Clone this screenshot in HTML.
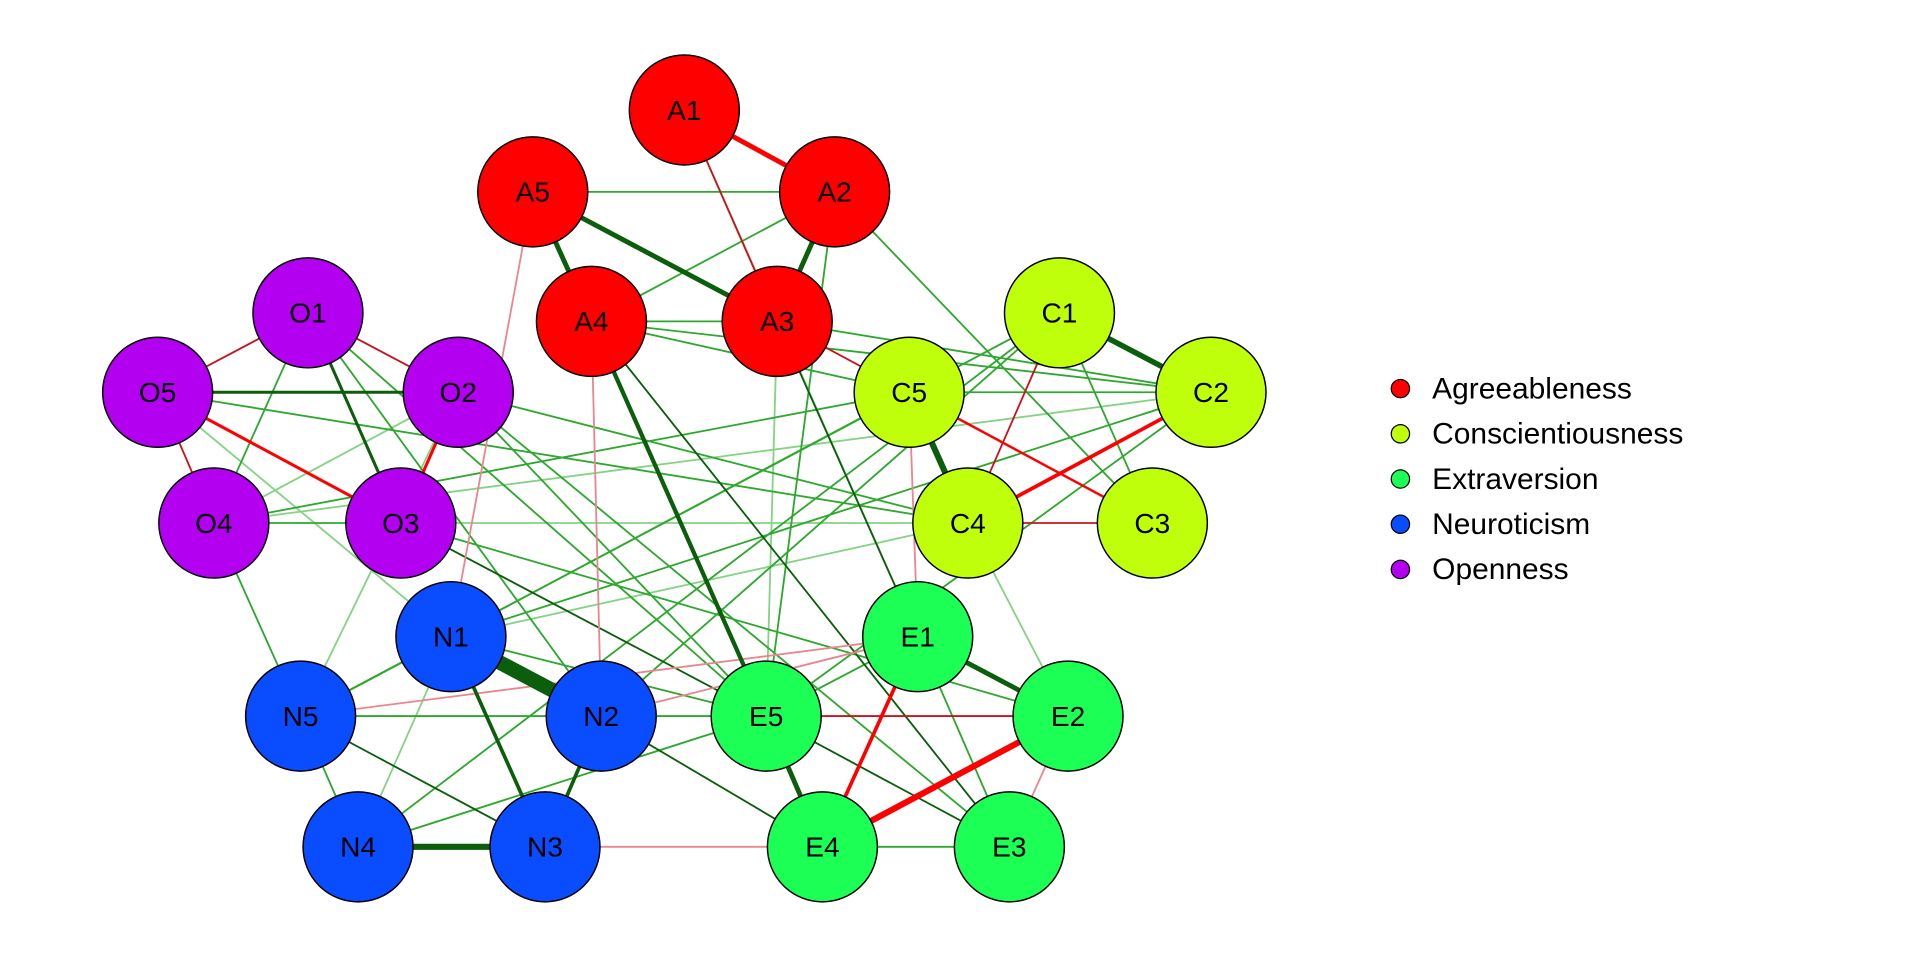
<!DOCTYPE html>
<html><head><meta charset="utf-8"><style>
html,body{margin:0;padding:0;background:#fff;width:1920px;height:960px;overflow:hidden}
svg text{font-family:"Liberation Sans",Arial,sans-serif}
</style></head><body>
<svg width="1920" height="960" viewBox="0 0 1920 960" xmlns="http://www.w3.org/2000/svg">
<g transform="scale(1.222)">
<g fill="none" stroke-linecap="round">
<g stroke="#86d386" stroke-width="1.5">
<line x1="560" y1="90" x2="751" y2="521"/>
<line x1="636" y1="263" x2="627" y2="586"/>
<line x1="375" y1="321" x2="246" y2="586"/>
<line x1="175" y1="428" x2="991" y2="321"/>
<line x1="328" y1="428" x2="792" y2="428"/>
<line x1="369" y1="521" x2="293" y2="693"/>
<line x1="792" y1="428" x2="874" y2="586"/>
<line x1="129" y1="321" x2="369" y2="521"/>
<line x1="175" y1="428" x2="375" y2="321"/>
<line x1="683" y1="157" x2="636" y2="263"/>
<line x1="792" y1="428" x2="369" y2="521"/>
</g>
<g stroke="#2ea82e" stroke-width="1.5">
<line x1="436" y1="157" x2="683" y2="157"/>
<line x1="683" y1="157" x2="484" y2="263"/>
<line x1="683" y1="157" x2="943" y2="428"/>
<line x1="683" y1="157" x2="627" y2="586"/>
<line x1="484" y1="263" x2="636" y2="263"/>
<line x1="484" y1="263" x2="744" y2="321"/>
<line x1="484" y1="263" x2="991" y2="321"/>
<line x1="636" y1="263" x2="991" y2="321"/>
<line x1="867" y1="256" x2="943" y2="428"/>
<line x1="867" y1="256" x2="246" y2="586"/>
<line x1="991" y1="321" x2="744" y2="321"/>
<line x1="991" y1="321" x2="627" y2="586"/>
<line x1="744" y1="321" x2="175" y2="428"/>
<line x1="792" y1="428" x2="375" y2="321"/>
<line x1="792" y1="428" x2="129" y2="321"/>
<line x1="252" y1="256" x2="175" y2="428"/>
<line x1="252" y1="256" x2="627" y2="586"/>
<line x1="252" y1="256" x2="492" y2="586"/>
<line x1="375" y1="321" x2="627" y2="586"/>
<line x1="375" y1="321" x2="826" y2="693"/>
<line x1="175" y1="428" x2="328" y2="428"/>
<line x1="175" y1="428" x2="246" y2="586"/>
<line x1="328" y1="428" x2="874" y2="586"/>
<line x1="369" y1="521" x2="246" y2="586"/>
<line x1="369" y1="521" x2="627" y2="586"/>
<line x1="369" y1="521" x2="991" y2="321"/>
<line x1="246" y1="586" x2="492" y2="586"/>
<line x1="246" y1="586" x2="293" y2="693"/>
<line x1="246" y1="586" x2="744" y2="321"/>
<line x1="492" y1="586" x2="627" y2="586"/>
<line x1="293" y1="693" x2="627" y2="586"/>
<line x1="293" y1="693" x2="867" y2="256"/>
<line x1="627" y1="586" x2="751" y2="521"/>
<line x1="751" y1="521" x2="826" y2="693"/>
<line x1="673" y1="693" x2="826" y2="693"/>
<line x1="867" y1="256" x2="492" y2="586"/>
</g>
<g stroke="#0b5e0b" stroke-width="1.5">
<line x1="484" y1="263" x2="826" y2="693"/>
<line x1="636" y1="263" x2="751" y2="521"/>
<line x1="328" y1="428" x2="627" y2="586"/>
<line x1="246" y1="586" x2="446" y2="693"/>
<line x1="492" y1="586" x2="673" y2="693"/>
<line x1="627" y1="586" x2="826" y2="693"/>
</g>
<g stroke="#e8888e" stroke-width="1.5">
<line x1="436" y1="157" x2="369" y2="521"/>
<line x1="484" y1="263" x2="492" y2="586"/>
<line x1="744" y1="321" x2="751" y2="521"/>
<line x1="246" y1="586" x2="751" y2="521"/>
<line x1="446" y1="693" x2="673" y2="693"/>
<line x1="874" y1="586" x2="826" y2="693"/>
<line x1="492" y1="586" x2="751" y2="521"/>
</g>
<g stroke="#c8141e" stroke-width="1.5">
<line x1="560" y1="90" x2="636" y2="263"/>
<line x1="867" y1="256" x2="792" y2="428"/>
<line x1="792" y1="428" x2="943" y2="428"/>
<line x1="129" y1="321" x2="175" y2="428"/>
<line x1="627" y1="586" x2="874" y2="586"/>
<line x1="129" y1="321" x2="252" y2="256"/>
<line x1="252" y1="256" x2="375" y2="321"/>
<line x1="636" y1="263" x2="943" y2="428"/>
</g>
<line x1="560" y1="90" x2="683" y2="157" stroke="#ff0000" stroke-width="4"/>
<line x1="436" y1="157" x2="484" y2="263" stroke="#0b5e0b" stroke-width="4"/>
<line x1="436" y1="157" x2="636" y2="263" stroke="#0b5e0b" stroke-width="4"/>
<line x1="683" y1="157" x2="636" y2="263" stroke="#0b5e0b" stroke-width="4"/>
<line x1="484" y1="263" x2="627" y2="586" stroke="#0b5e0b" stroke-width="3.5"/>
<line x1="867" y1="256" x2="991" y2="321" stroke="#0b5e0b" stroke-width="4.5"/>
<line x1="991" y1="321" x2="792" y2="428" stroke="#ff0000" stroke-width="3"/>
<line x1="744" y1="321" x2="792" y2="428" stroke="#0b5e0b" stroke-width="5"/>
<line x1="744" y1="321" x2="943" y2="428" stroke="#ff0000" stroke-width="2"/>
<line x1="252" y1="256" x2="328" y2="428" stroke="#0b5e0b" stroke-width="2.5"/>
<line x1="129" y1="321" x2="375" y2="321" stroke="#0b5e0b" stroke-width="2.5"/>
<line x1="129" y1="321" x2="328" y2="428" stroke="#ff0000" stroke-width="2.5"/>
<line x1="375" y1="321" x2="328" y2="428" stroke="#ff0000" stroke-width="2.5"/>
<line x1="369" y1="521" x2="492" y2="586" stroke="#0b5e0b" stroke-width="12"/>
<line x1="369" y1="521" x2="446" y2="693" stroke="#0b5e0b" stroke-width="3"/>
<line x1="492" y1="586" x2="446" y2="693" stroke="#0b5e0b" stroke-width="3"/>
<line x1="293" y1="693" x2="446" y2="693" stroke="#0b5e0b" stroke-width="5"/>
<line x1="627" y1="586" x2="673" y2="693" stroke="#0b5e0b" stroke-width="4"/>
<line x1="751" y1="521" x2="874" y2="586" stroke="#0b5e0b" stroke-width="4"/>
<line x1="751" y1="521" x2="673" y2="693" stroke="#ff0000" stroke-width="3"/>
<line x1="874" y1="586" x2="673" y2="693" stroke="#ff0000" stroke-width="5"/>
</g>
<g stroke="#000" stroke-width="1.2">
<g fill="#ff0000">
<circle cx="560" cy="90" r="45"/><circle cx="683" cy="157" r="45"/><circle cx="436" cy="157" r="45"/><circle cx="484" cy="263" r="45"/><circle cx="636" cy="263" r="45"/>
</g>
<g fill="#c0ff0c">
<circle cx="867" cy="256" r="45"/><circle cx="991" cy="321" r="45"/><circle cx="744" cy="321" r="45"/><circle cx="792" cy="428" r="45"/><circle cx="943" cy="428" r="45"/>
</g>
<g fill="#b300f0">
<circle cx="252" cy="256" r="45"/><circle cx="129" cy="321" r="45"/><circle cx="375" cy="321" r="45"/><circle cx="175" cy="428" r="45"/><circle cx="328" cy="428" r="45"/>
</g>
<g fill="#0a4cff">
<circle cx="369" cy="521" r="45"/><circle cx="246" cy="586" r="45"/><circle cx="492" cy="586" r="45"/><circle cx="293" cy="693" r="45"/><circle cx="446" cy="693" r="45"/>
</g>
<g fill="#1cff55">
<circle cx="751" cy="521" r="45"/><circle cx="874" cy="586" r="45"/><circle cx="627" cy="586" r="45"/><circle cx="673" cy="693" r="45"/><circle cx="826" cy="693" r="45"/>
</g>
</g>
<g font-size="23" text-anchor="middle" fill="#000">
<text x="560" y="98">A1</text><text x="683" y="165">A2</text><text x="436" y="165">A5</text><text x="484" y="271">A4</text><text x="636" y="271">A3</text>
<text x="867" y="264">C1</text><text x="991" y="329">C2</text><text x="744" y="329">C5</text><text x="792" y="436">C4</text><text x="943" y="436">C3</text>
<text x="252" y="264">O1</text><text x="129" y="329">O5</text><text x="375" y="329">O2</text><text x="175" y="436">O4</text><text x="328" y="436">O3</text>
<text x="369" y="529">N1</text><text x="246" y="594">N5</text><text x="492" y="594">N2</text><text x="293" y="701">N4</text><text x="446" y="701">N3</text>
<text x="751" y="529">E1</text><text x="874" y="594">E2</text><text x="627" y="594">E5</text><text x="673" y="701">E4</text><text x="826" y="701">E3</text>
</g>
<g stroke="#000" stroke-width="1">
<circle cx="1146" cy="318" r="7.5" fill="#ff0000"/>
<circle cx="1146" cy="355" r="7.5" fill="#c0ff0c"/>
<circle cx="1146" cy="392" r="7.5" fill="#1cff55"/>
<circle cx="1146" cy="429" r="7.5" fill="#0a4cff"/>
<circle cx="1146" cy="466" r="7.5" fill="#b300f0"/>
</g>
<g font-size="24.5" fill="#000">
<text x="1172" y="326">Agreeableness</text>
<text x="1172" y="363">Conscientiousness</text>
<text x="1172" y="400">Extraversion</text>
<text x="1172" y="437">Neuroticism</text>
<text x="1172" y="474">Openness</text>
</g>
</g>
</svg>
</body></html>
